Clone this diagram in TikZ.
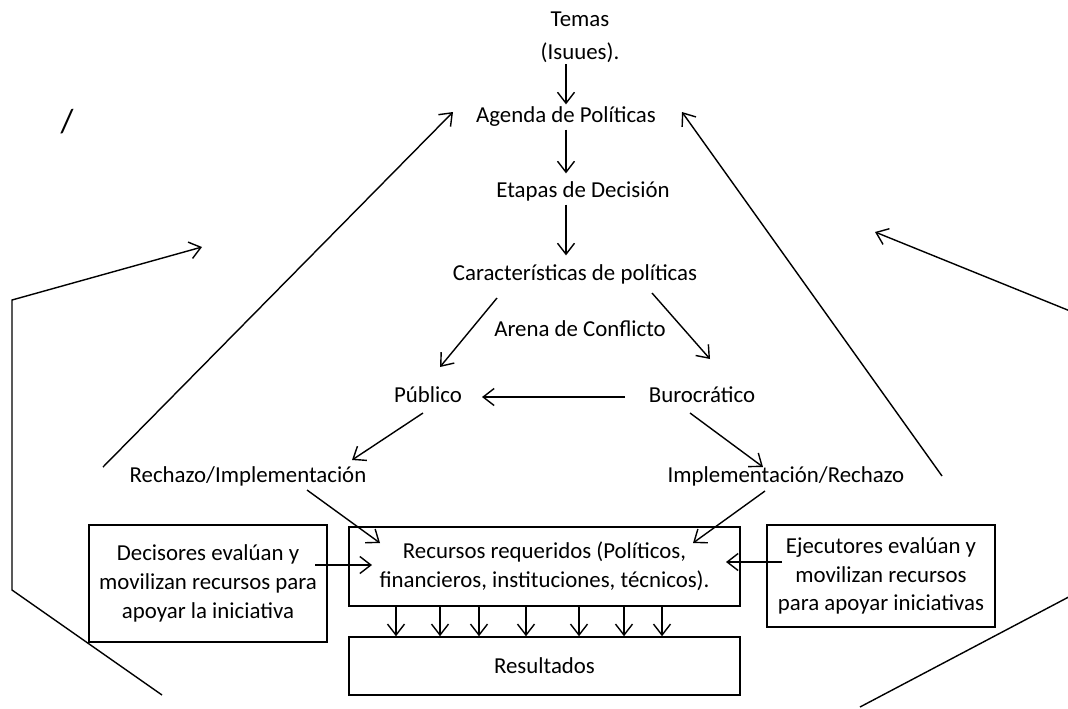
\documentclass[tikz,border=0pt]{standalone}
\usepackage{fontspec}
\setmainfont{Carlito}
\usepackage{tikz}
\usetikzlibrary{arrows.meta, calc}

\begin{document}
\begin{tikzpicture}[
    x=0.02cm, y=-0.02cm,
    lbl/.style={inner sep=1pt, text height=9pt, text depth=3pt, font=\fontsize{13}{16.4}\selectfont},
    box/.style={rectangle, draw, line width=0.9pt, align=center, inner sep=2pt, font=\fontsize{13}{16.4}\selectfont},
    arr/.style={-{Straight Barb[length=2.2mm, width=3.4mm]}, line width=0.8pt},
    edge/.style={line width=0.8pt}
]
\useasboundingbox (0,0) rectangle (1068,708);
\fill[white] (0,0) rectangle (1068,708);
\clip (0,0) rectangle (1068,708);

% Temas
\node[lbl, align=center, text height=, text depth=, font=\fontsize{13}{18.7}\selectfont] (temas) at (580,37) {Temas\\(Isuues).};

% central column
\node[lbl] (agenda) at (566,117) {Agenda de Políticas};
\node[lbl] (etapas) at (583,192) {Etapas de Decisión};
\node[lbl] (caract) at (575,275) {Características de políticas};
\node[lbl] (arena) at (580,331) {Arena de Conflicto};

% arenas
\node[lbl] (publico) at (428,397) {Público};
\node[lbl] (burocr) at (702,397) {Burocrático};
\node[lbl] (rechazo) at (248,477) {Rechazo/Implementación};
\node[lbl] (implem) at (786,477) {Implementación/Rechazo};

% boxes
\node[box, minimum width=7.82cm, minimum height=1.58cm] (recursos) at (544.5,566.5) {Recursos requeridos (Políticos,\\financieros, instituciones, técnicos).};
\node[box, minimum width=7.82cm, minimum height=1.16cm] (resultados) at (544.5,666) {Resultados};
\node[box, minimum width=4.76cm, minimum height=2.34cm] (decisores) at (208,583.5) {Decisores evalúan y\\movilizan recursos para\\apoyar la iniciativa};
\node[box, minimum width=4.56cm, minimum height=2.04cm] (ejecutores) at (881,576) {Ejecutores evalúan y\\movilizan recursos\\para apoyar iniciativas};

% stray mark
\node[inner sep=0pt, font=\fontsize{19}{19}\selectfont] (marca) at (67,122) {/};

% down the column
\draw[arr] (agenda.north |- temas.south) -- (agenda.north);
\draw[arr] (agenda.south) -- ($(agenda.south |- etapas.north)+(0,-6)$);
\draw[arr] (agenda.south |- etapas.south) -- ($(agenda.south |- caract.north)+(0,-7)$);
\draw[arr] ($(caract)+(-78,23)$) -- ($(publico)+(12,-30)$);
\draw[arr] ($(caract)+(77,18)$) -- ($(burocr)+(8,-38)$);
\draw[arr] ($(burocr)+(-77,0)$) -- ($(publico)+(54,0)$);
\draw[arr] ($(publico)+(-5,16)$) -- ($(rechazo)+(104,-17)$);
\draw[arr] ($(burocr)+(-12,16)$) -- ($(implem)+(-23,-10)$);

% into resources
\draw[arr] ($(rechazo)+(59,13)$) -- ($(recursos)+(-164.5,-23.5)$);
\draw[arr] ($(implem)+(-21,14)$) -- ($(recursos)+(148.5,-23.5)$);
\draw[arr] ($(decisores)+(107,-18.5)$) -- ($(recursos)+(-172.5,-1.5)$);
\draw[arr] ($(ejecutores)+(-99,-14)$) -- ($(recursos)+(181.5,-4.5)$);

% resources to results
\foreach \dx in {-148.5,-104.5,-65.5,-18.5,34.5,79.5,117.5}
    \draw[arr] ($(recursos.south)+(\dx,0)$) -- ($(resultados.north)+(\dx,0)$);

% feedback to the agenda
\draw[arr] ($(rechazo)+(-145,-10)$) -- ($(agenda)+(-113,-5)$);
\draw[arr] ($(implem)+(156,-1)$) -- ($(agenda)+(116,-5)$);

% outer loops
\coordinate (l1) at (162,695);
\coordinate (l2) at (12,590);
\coordinate (l3) at (12,300);
\coordinate (l4) at (202,247);
\draw[edge, -{Straight Barb[length=2.2mm, width=3.4mm]}] (l1) -- (l2) -- (l3) -- (l4);

\coordinate (r1) at (860,707);
\coordinate (r2) at (1080,591);
\coordinate (r3) at (1080,315);
\coordinate (r4) at (875,232);
\draw[edge, -{Straight Barb[length=2.2mm, width=3.4mm]}] (r1) -- (r2) -- (r3) -- (r4);
\end{tikzpicture}
\end{document}
